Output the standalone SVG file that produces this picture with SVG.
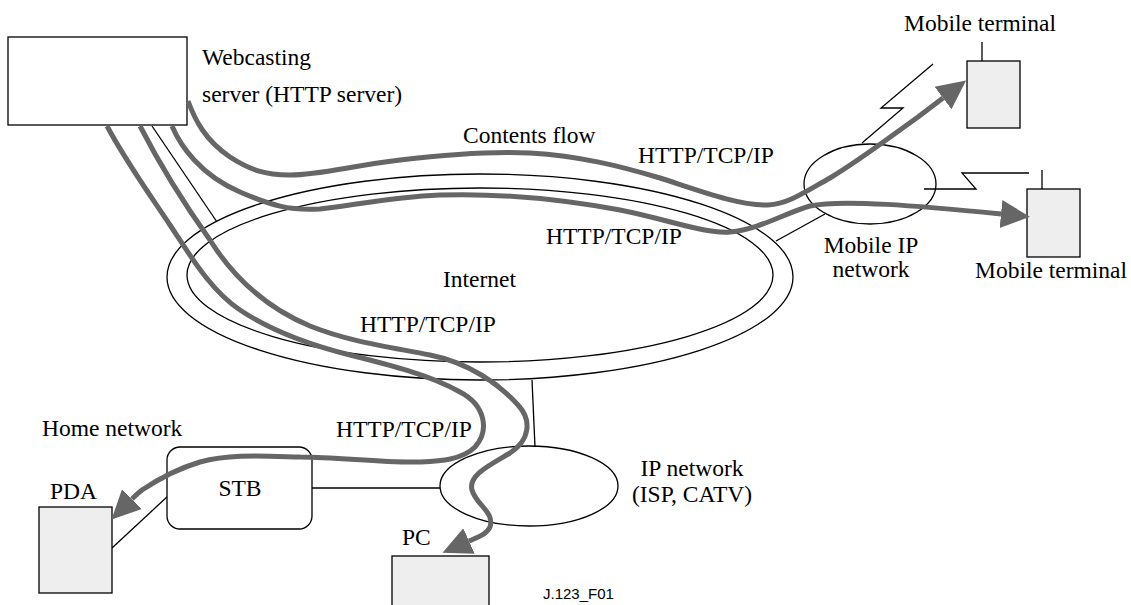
<svg xmlns="http://www.w3.org/2000/svg" width="1131" height="605" viewBox="0 0 1131 605">
<style>
  text { font-family: "Liberation Serif", "Times New Roman", serif; font-size: 23.5px; fill: #000; }
  .mid { text-anchor: middle; }
  .thin { fill: none; stroke: #000; stroke-width: 1.3; }
  .box { fill: #fff; stroke: #000; stroke-width: 1.3; }
  .term { fill: #eeeeee; stroke: #000; stroke-width: 1.3; }
  .flow { fill: none; stroke: #666; stroke-width: 5; stroke-linejoin: round; marker-end: url(#ah); }
  .small { font-family: "Liberation Sans", Arial, sans-serif; font-size: 15px; }
</style>
<defs>
  <marker id="ah" markerUnits="userSpaceOnUse" markerWidth="32" markerHeight="32" viewBox="0 -16 32 32" refX="0" refY="0" orient="auto">
    <path d="M0,-14 L29,0 L0,14 z" fill="#666"/>
  </marker>
</defs>
<rect width="1131" height="605" fill="#fff"/>

<g id="internet">
  <ellipse class="thin" cx="480" cy="277" rx="313" ry="103"/>
  <ellipse class="thin" cx="480" cy="275" rx="293" ry="87"/>
  <text x="443" y="287">Internet</text>
</g>

<g id="links">
  <line class="thin" x1="152" y1="126" x2="217" y2="222"/>
  <line class="thin" x1="776" y1="241" x2="825" y2="214"/>
  <line class="thin" x1="532" y1="380" x2="535" y2="447"/>
  <line class="thin" x1="312" y1="488" x2="440" y2="488"/>
  <line class="thin" x1="112" y1="548" x2="168" y2="496"/>
  <polyline class="thin" points="862,143 903,108 881,108 933,64"/>
  <polyline class="thin" points="924,189 976,189 962,173 1029,173"/>
  <line class="thin" x1="982" y1="42" x2="982" y2="61"/>
  <line class="thin" x1="1042" y1="170" x2="1042" y2="189"/>
</g>

<g id="server">
  <rect class="box" x="8" y="37" width="179" height="88"/>
  <text x="202" y="65">Webcasting</text>
  <text x="202" y="102">server (HTTP server)</text>
</g>

<g id="mobile-ip">
  <ellipse class="thin" cx="870" cy="184" rx="66" ry="40"/>
  <text class="mid" x="871" y="253">Mobile IP</text>
  <text class="mid" x="871" y="277">network</text>
</g>

<g id="mobile-terminal-1">
  <rect class="term" x="967" y="61" width="53" height="67"/>
  <text x="904" y="31">Mobile terminal</text>
</g>

<g id="mobile-terminal-2">
  <rect class="term" x="1027" y="189" width="53" height="68"/>
  <text x="975" y="278">Mobile terminal</text>
</g>

<g id="ip-network">
  <ellipse class="thin" cx="529" cy="486" rx="89" ry="40"/>
  <text class="mid" x="692" y="476">IP network</text>
  <text class="mid" x="692" y="502">(ISP, CATV)</text>
</g>

<g id="stb">
  <rect class="box" x="167" y="447" width="145" height="82" rx="13" ry="13"/>
  <text class="mid" x="240" y="496">STB</text>
  <text x="42" y="436">Home network</text>
</g>

<g id="pda">
  <rect class="term" x="39" y="507" width="73" height="86"/>
  <text x="50" y="499">PDA</text>
</g>

<g id="pc">
  <rect class="term" x="392" y="556" width="97" height="55"/>
  <text x="402" y="545">PC</text>
</g>

<g id="labels">
  <text x="463" y="143">Contents flow</text>
  <text x="638" y="163">HTTP/TCP/IP</text>
  <text x="546" y="244">HTTP/TCP/IP</text>
  <text x="360" y="332">HTTP/TCP/IP</text>
  <text x="336" y="437">HTTP/TCP/IP</text>
  <text class="small" x="543" y="599">J.123_F01</text>
</g>

<g id="connectors">
  <path class="flow" d="M188,101 C195,120 205,140 230,157 C250,170 265,175 290,175 C320,175 350,166 400,160 C450,154 490,151 530,153 C580,156 620,166 660,178 C700,191 740,206 768,205 C788,204 805,192 830,178 C860,160 890,137 918,117 L943,98"/>
  <path class="flow" d="M172,126 C180,145 200,175 240,192 C270,205 290,211 320,209 C350,206 390,197 440,195 C500,193 560,199 620,210 C670,220 705,234 730,232 C760,229 785,213 810,206 C840,199 920,206 1001,214"/>
  <path class="flow" d="M140,126 C160,165 185,205 210,240 C230,272 260,305 310,326 C350,342 390,347 430,355 C470,363 500,385 518,405 C532,420 530,440 510,453 C490,465 468,475 472,490 C476,505 495,512 490,527 C487,534 478,537 469,541"/>
  <path class="flow" d="M107,126 C125,160 150,195 170,225 C190,255 210,290 240,310 C270,330 310,345 350,355 C390,365 430,375 460,392 C485,405 490,430 475,447 C462,460 440,461 420,462 C380,463 340,457 300,457 C260,456 230,454 200,462 C180,468 160,478 142,490 C138,493 135,496 132,499"/>
</g>
</svg>
